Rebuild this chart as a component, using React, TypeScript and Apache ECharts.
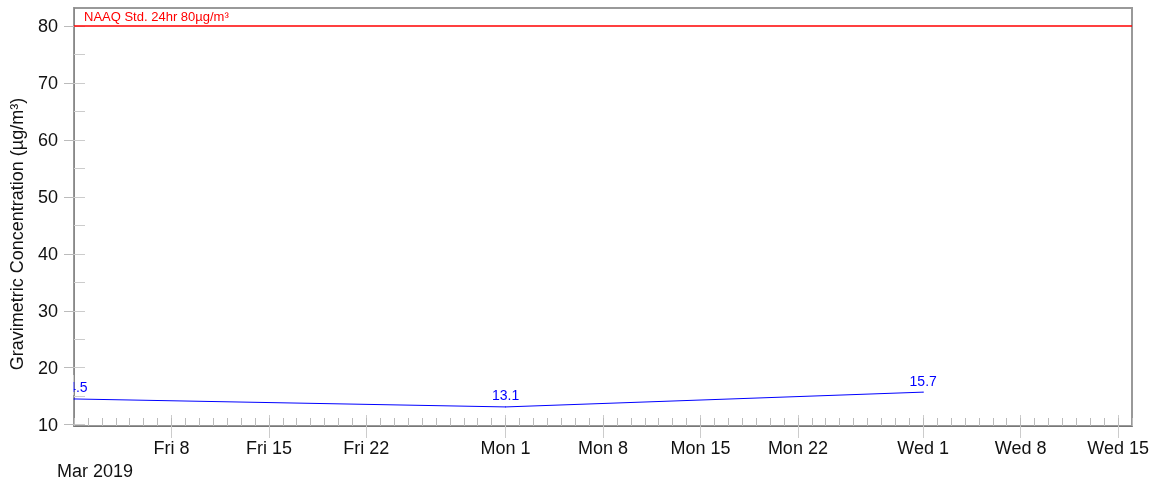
import React, { useEffect, useRef } from 'react';
import * as echarts from 'echarts';

// ---- data ----
const dates = ['2019-03-01', '2019-04-01', '2019-05-01'];
const values = [14.5, 13.1, 15.7];
const axisStart = '2019-03-01';
const axisEnd = '2019-05-16';
const tickDates = ['2019-03-08', '2019-03-15', '2019-03-22', '2019-04-01', '2019-04-08', '2019-04-15', '2019-04-22', '2019-05-01', '2019-05-08', '2019-05-15'];
const tickLabels = ['Fri 8', 'Fri 15', 'Fri 22', 'Mon 1', 'Mon 8', 'Mon 15', 'Mon 22', 'Wed 1', 'Wed 8', 'Wed 15'];
const firstLabel = 'Mar 2019';
const yMajorTicks = [10, 20, 30, 40, 50, 60, 70, 80];
const yMinorTicks = [15, 25, 35, 45, 55, 65, 75];
const yMin = 9.75;
const yMax = 83.2;
const standardValue = 80;
const standardLabel = 'NAAQ Std. 24hr 80µg/m³';
const yTitle = 'Gravimetric Concentration (µg/m³)';

const DAY = 86400000;
const dayOf = (s: string) => (Date.parse(s + 'T00:00:00Z') - Date.parse(axisStart + 'T00:00:00Z')) / DAY;

const FONT = '"Liberation Sans", Arial, Helvetica, sans-serif';
const TEXT = '#111';

export default function App() {
  const ref = useRef<HTMLDivElement>(null);
  useEffect(() => {
    if (!ref.current) return;
    const chart = echarts.init(ref.current, undefined, { renderer: 'svg' });
    const xMax = dayOf(axisEnd);
    const tickDays = tickDates.map(dayOf);
    const labelMap: Record<string, string> = {};
    tickDays.forEach((d, i) => (labelMap[String(d)] = tickLabels[i]));
    const gridLeft = 74;

    const baseX = { type: 'value', min: 0, max: xMax, position: 'bottom', gridIndex: 0, splitLine: { show: false } };
    const baseY = { type: 'value', min: yMin, max: yMax, position: 'left', gridIndex: 0, splitLine: { show: false } };

    chart.setOption({
      animation: false,
      textStyle: { fontFamily: FONT },
      grid: {
        left: gridLeft, right: 24, top: 8, bottom: 57,
        show: true, borderColor: '#999', borderWidth: 2, backgroundColor: 'transparent'
      },
      xAxis: [
        {
          ...baseX,
          axisLine: { show: true, lineStyle: { color: '#777', width: 1 } },
          axisTick: { show: true, customValues: tickDays, length: 12, lineStyle: { color: '#ccc' } },
          axisLabel: {
            show: true,
            customValues: [0, ...tickDays],
            fontSize: 18, color: TEXT, margin: 10, lineHeight: 23,
            formatter: (v: number) => (v === 0 ? '\n{y|' + firstLabel + '}' : labelMap[String(v)] || ''),
            rich: { y: { fontSize: 18, color: TEXT, lineHeight: 23, padding: [0, 0, 0, 42], fontFamily: FONT } }
          }
        },
        {
          ...baseX,
          axisLine: { show: false },
          axisTick: { show: true, inside: true, customValues: tickDays, length: 11, lineStyle: { color: '#ccc' } },
          axisLabel: { show: false }
        },
        {
          ...baseX,
          interval: 1,
          axisLine: { show: false },
          axisTick: { show: true, inside: true, length: 8, lineStyle: { color: '#bbb' } },
          axisLabel: { show: false }
        }
      ],
      yAxis: [
        {
          ...baseY,
          axisLine: { show: true, lineStyle: { color: '#888', width: 1 } },
          axisTick: { show: true, customValues: yMajorTicks, length: 10, lineStyle: { color: '#bbb' } },
          axisLabel: { show: true, customValues: yMajorTicks, fontSize: 18, color: TEXT, margin: 16 },
          name: yTitle,
          nameLocation: 'middle',
          nameRotate: 90,
          nameGap: 48,
          nameTextStyle: { fontSize: 18, color: TEXT, padding: [0, 34, 0, 0] }
        },
        {
          ...baseY,
          axisLine: { show: false },
          axisTick: { show: true, inside: true, customValues: [...yMinorTicks, ...yMajorTicks], length: 11, lineStyle: { color: '#ccc' } },
          axisLabel: { show: false }
        }
      ],
      series: [
        {
          type: 'line',
          xAxisIndex: 0,
          yAxisIndex: 0,
          data: dates.map((d, i) => [dayOf(d), values[i]]),
          showSymbol: true,
          symbol: 'circle',
          symbolSize: 1,
          clip: false,
          lineStyle: { color: '#0000ff', width: 1 },
          itemStyle: { color: '#0000ff' },
          label: { show: true, position: 'top', color: '#0000ff', fontSize: 14, distance: 4, formatter: (p: any) => String(p.value[1]) },
          markLine: {
            silent: true,
            symbol: ['none', 'none'],
            lineStyle: { color: '#ff0000', width: 1.5, type: 'solid' },
            label: { show: true, position: 'insideStartTop', formatter: standardLabel, color: '#ff0000', fontSize: 13, distance: [10, 3] },
            data: [{ yAxis: standardValue }]
          }
        }
      ]
    });

    // clip the part of the first data label that falls outside the plot, as in the original
    const p = chart.convertToPixel({ xAxisIndex: 0, yAxisIndex: 0 }, [dayOf(dates[0]), values[0]]) as number[];
    chart.setOption({
      graphic: [
        { type: 'rect', silent: true, z: 100, shape: { x: 0, y: p[1] - 24, width: gridLeft - 0.5, height: 20 }, style: { fill: '#fff' } }
      ]
    });

    return () => chart.dispose();
  }, []);
  return <div ref={ref} style={{ position: 'fixed', left: 0, top: 0, width: 1156, height: 483 }} />;
}
